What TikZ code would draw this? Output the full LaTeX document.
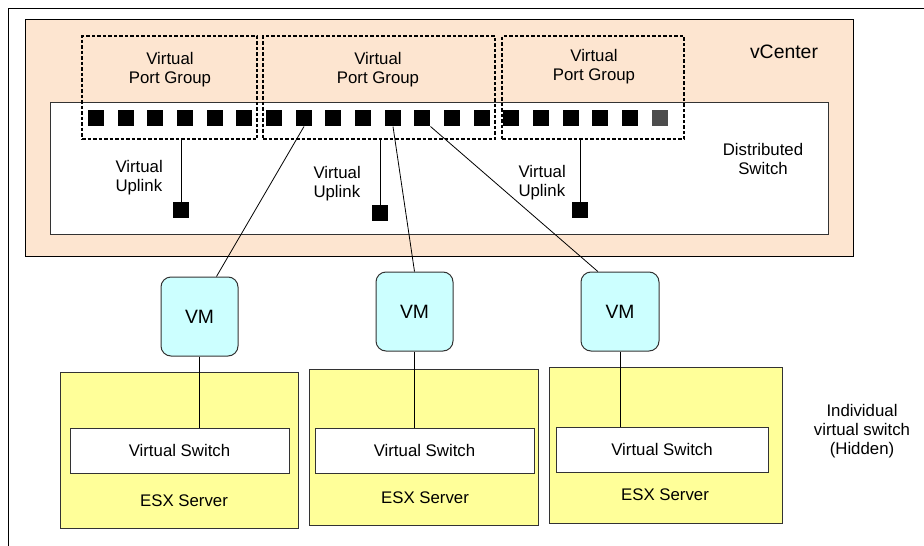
\documentclass[tikz,border=0pt]{standalone}
\usepackage{fontspec}
\setmainfont{Liberation Sans}
\definecolor{vcfill}{RGB}{253,229,208}
\definecolor{vmfill}{RGB}{204,255,255}
\definecolor{esxfill}{RGB}{255,255,153}
\begin{document}
\begin{tikzpicture}[x=1pt, y=-1pt, line width=1pt]
\tikzstyle{every node}=[inner sep=0pt, font=\fontsize{16.8}{19}\selectfont]
\tikzstyle{box}=[draw, rectangle]
\tikzstyle{port}=[rectangle, fill=black, minimum size=16pt]
\tikzstyle{group}=[draw, rectangle, line width=1.8pt, dash pattern=on 3.5pt off 2pt, minimum height=103pt]
\tikzstyle{vm}=[draw=black!80, fill=vmfill, rounded corners=10pt, minimum width=77pt, minimum height=79pt, font=\fontsize{19.3}{22}\selectfont]
\tikzstyle{esx}=[box, draw=black!80, fill=esxfill, minimum height=156pt]
\tikzstyle{vswitch}=[box, draw=black!80, fill=white, minimum height=45pt]
\useasboundingbox (0,0) rectangle (924,546);
\draw (924,8) -- (8,8) -- (8,546);
% vCenter and distributed switch
\node[box, fill=vcfill, minimum width=828pt, minimum height=237pt] (vc) at (439,137.5) {};
\node[font=\fontsize{19.4}{22}\selectfont] (vclabel) at (784,52) {vCenter};
\node[box, draw=black!80, fill=white, minimum width=778pt, minimum height=132pt] (ds) at (439,168) {};
\node[align=center] (dslabel) at (763,159) {Distributed\\Switch};
% ports
\node[port] (p1) at (96,118) {};
\node[port] (p2) at (126,118) {};
\node[port] (p3) at (155,118) {};
\node[port] (p4) at (185,118) {};
\node[port] (p5) at (215,118) {};
\node[port] (p6) at (244,118) {};
\node[port] (p7) at (274,118) {};
\node[port] (p8) at (304,118) {};
\node[port] (p9) at (333,118) {};
\node[port] (p10) at (363,118) {};
\node[port] (p11) at (393,118) {};
\node[port] (p12) at (422,118) {};
\node[port] (p13) at (452,118) {};
\node[port] (p14) at (482,118) {};
\node[port] (p15) at (511,118) {};
\node[port] (p16) at (541,118) {};
\node[port] (p17) at (571,118) {};
\node[port] (p18) at (600,118) {};
\node[port] (p19) at (630,118) {};
\node[port, fill=black!70] (p20) at (660,118) {};
% port groups
\node[group, minimum width=175pt] (pg1) at (169.5,87.5) {};
\node[group, minimum width=232pt] (pg2) at (379,87.5) {};
\node[group, minimum width=182pt] (pg3) at (593,87.5) {};
\node[align=center] (pgl1) at (170,70) {Virtual\\Port Group};
\node[align=center] (pgl2) at (378,70) {Virtual\\Port Group};
\node[align=center] (pgl3) at (594,67) {Virtual\\Port Group};
% uplinks
\node[port] (u1) at (181,210) {};
\node[port] (u2) at (380,213) {};
\node[port] (u3) at (580,210) {};
\node[align=left, anchor=west] (ul1) at (115,178) {Virtual\\Uplink};
\node[align=left, anchor=west] (ul2) at (313,184) {Virtual\\Uplink};
\node[align=left, anchor=west] (ul3) at (518,183) {Virtual\\Uplink};
% hosts
\node[vm] (vm1) at (199.5,316.5) {VM};
\node[vm] (vm2) at (414.5,311.5) {VM};
\node[vm, minimum width=78pt] (vm3) at (620,311.5) {VM};
\node[esx, minimum width=238pt] (esx1) at (179,450) {};
\node[esx, minimum width=229pt] (esx2) at (423.5,447) {};
\node[esx, minimum width=233pt] (esx3) at (665.5,445) {};
\node[vswitch, minimum width=219pt] (vs1) at (179.5,450.5) {Virtual Switch};
\node[vswitch, minimum width=219pt] (vs2) at (424.5,450.5) {Virtual Switch};
\node[vswitch, minimum width=212pt] (vs3) at (662,449.5) {Virtual Switch};
\node (esxl1) at (184,501) {ESX Server};
\node (esxl2) at (425,498) {ESX Server};
\node (esxl3) at (665,495) {ESX Server};
\node[align=center] (hidden) at (862,431) {Individual\\virtual switch\\(Hidden)};
% links
\draw[line width=0.8pt] (u1.north) -- (u1.north |- pg1.south);
\draw[line width=0.8pt] (u2.north) -- (u2.north |- pg2.south);
\draw[line width=0.8pt] (u3.north) -- (u3.north |- pg3.south);
\draw[line width=0.8pt] (p8.south) -- (vm1.67);
\draw[line width=0.8pt] (p11.south) -- (vm2.north);
\draw[line width=0.8pt] (p12.south east) -- (vm3.119);
\draw[line width=0.8pt] (vm1.south) -- (vm1.south |- vs1.north);
\draw[line width=0.8pt] (vm2.south) -- (vm2.south |- vs2.north);
\draw[line width=0.8pt] (vm3.south) -- (vm3.south |- vs3.north);
\end{tikzpicture}
\end{document}
